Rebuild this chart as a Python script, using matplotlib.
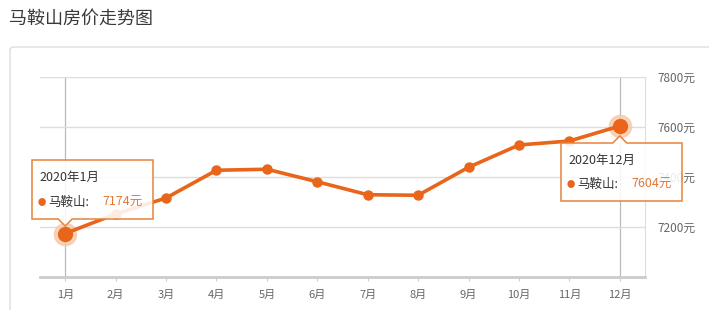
import matplotlib.pyplot as plt
import numpy as np
from matplotlib.patches import FancyBboxPatch, PathPatch
from matplotlib.path import Path

plt.rcParams['font.family'] = ['Noto Sans CJK SC', 'DejaVu Sans']

# ---- Data ----
months = ["1月", "2月", "3月", "4月", "5月", "6月", "7月", "8月", "9月", "10月", "11月", "12月"]
prices = [7174, 7252, 7316, 7427, 7431, 7381, 7329, 7327, 7439, 7528, 7544, 7604]
yticks = [7200, 7400, 7600, 7800]
city = "马鞍山"
title = "马鞍山房价走势图"
tip_labels = ["2020年1月", "2020年12月"]

W, H = 709, 310
line_c = '#e8651a'
fig = plt.figure(figsize=(W / 100, H / 100), dpi=100)

# ---- Outer card ----
card = FancyBboxPatch((10, -20), 720, 283, boxstyle="round,pad=0,rounding_size=4",
                      transform=None, facecolor='white', edgecolor='#dddddd', lw=1, zorder=0)
fig.add_artist(card)
fig.text(9 / W, 1 - 19 / H, title, fontsize=13, color='#3a3a3a', va='center', ha='left')

# ---- Plot area ----
ax = fig.add_axes([40 / W, 33 / H, 605 / W, 200 / H])
ax.patch.set_alpha(0)
x = np.arange(len(months))
ax.set_xlim(-0.5, len(months) - 0.5)
ax.set_ylim(7000, 7800)

for s in ['top', 'left']:
    ax.spines[s].set_visible(False)
ax.spines['right'].set_color('#dddddd')
ax.spines['bottom'].set_color('#cccccc')
ax.spines['bottom'].set_linewidth(2)

ax.yaxis.tick_right()
ax.set_yticks(yticks)
ax.set_yticklabels([f"{v}元" for v in yticks])
ax.grid(axis='y', color='#dddddd', lw=1)
ax.tick_params(axis='y', length=0, labelsize=8.5, labelcolor='#666666', pad=9)
ax.set_xticks(x)
ax.set_xticklabels(months)
ax.tick_params(axis='x', length=3, color='#cccccc', labelsize=8, labelcolor='#666666', pad=6)

# crosshair lines at highlighted months
for i in (0, len(months) - 1):
    ax.axvline(x[i], color='#bbbbbb', lw=0.9, zorder=1)

ax.plot(x, prices, color=line_c, lw=2.6, marker='o', ms=6.5, zorder=3)
for i in (0, len(months) - 1):
    ax.plot(x[i], prices[i], 'o', ms=16, color='#f7c9a8', alpha=0.8, zorder=2)
    ax.plot(x[i], prices[i], 'o', ms=10, color=line_c, zorder=4)

# ---- Tooltips ----
fig.canvas.draw()

def tooltip(i, label, box_x, box_y, w, h, below):
    px, py = ax.transData.transform((x[i], prices[i]))
    n = 7
    if below:
        # box sits above point, notch on bottom edge
        verts = [(box_x, box_y), (px - n, box_y), (px, box_y - n), (px + n, box_y),
                 (box_x + w, box_y), (box_x + w, box_y + h), (box_x, box_y + h), (box_x, box_y)]
    else:
        verts = [(box_x, box_y), (box_x + w, box_y), (box_x + w, box_y + h), (px + n, box_y + h),
                 (px, box_y + h + n), (px - n, box_y + h), (box_x, box_y + h), (box_x, box_y)]
    codes = [Path.MOVETO] + [Path.LINETO] * (len(verts) - 2) + [Path.CLOSEPOLY]
    patch = PathPatch(Path(verts, codes), transform=None, facecolor=(1, 1, 1, 0.88),
                      edgecolor='#e8823a', lw=1.1, zorder=10)
    fig.add_artist(patch)
    tx = box_x + 7
    fig.text(tx / W, (box_y + h - 17) / H, label, fontsize=9, color='#333333',
             va='center', zorder=11)
    row = (box_y + 17) / H
    fig.text((tx - 1) / W, row, "●", fontsize=6, color=line_c, va='center', zorder=11)
    fig.text((tx + 9) / W, row, f"{city}:", fontsize=9, color='#333333', va='center', zorder=11)
    fig.text((tx + 63) / W, row, f"{prices[i]}元", fontsize=9, color='#e07a3a',
             va='center', zorder=11)

tooltip(0, tip_labels[0], 32, 91, 121, 59, below=True)
tooltip(len(months) - 1, tip_labels[1], 561, 109, 121, 58, below=False)

plt.savefig("out.png", dpi=100)
